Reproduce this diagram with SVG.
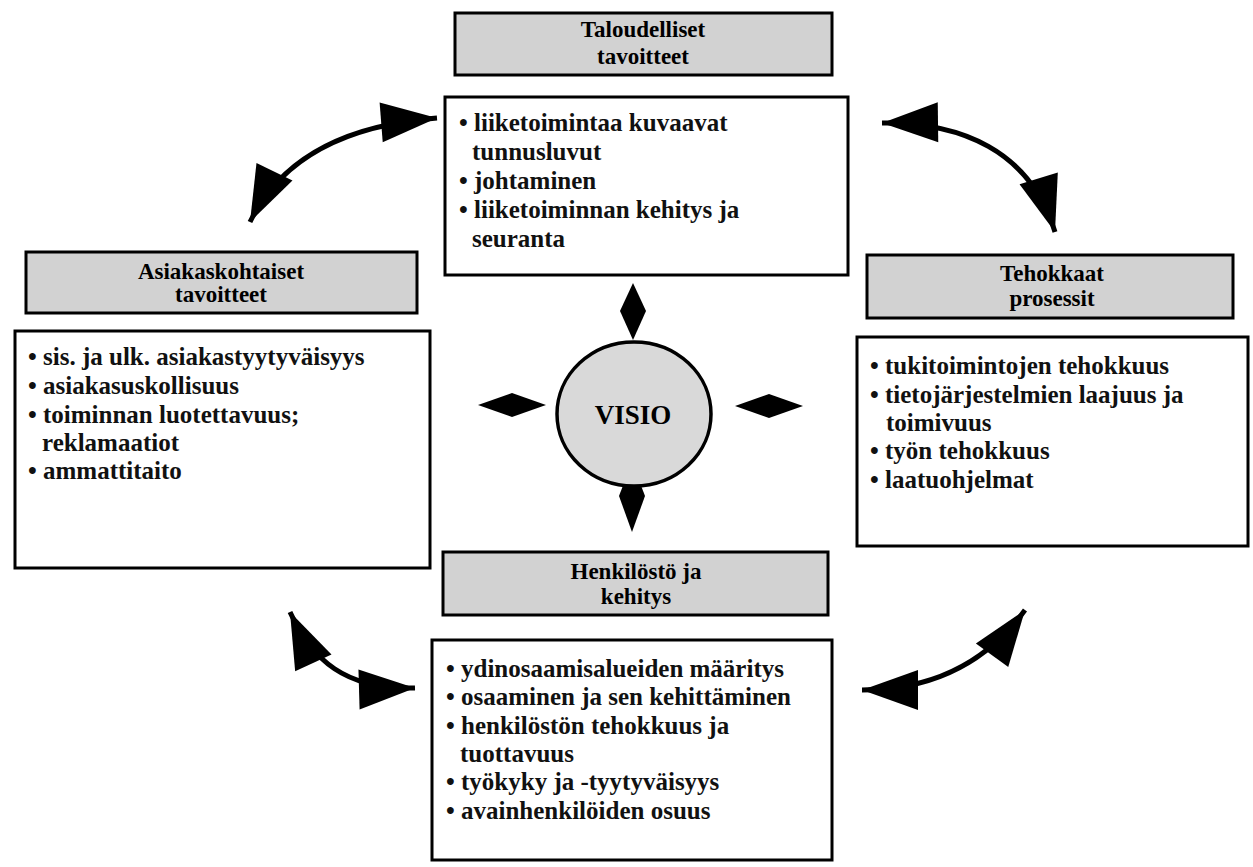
<svg xmlns="http://www.w3.org/2000/svg" width="1253" height="867" viewBox="0 0 1253 867">
<style>
.hdr{fill:#d2d2d2;stroke:#000;stroke-width:3}
.box{fill:#fff;stroke:#000;stroke-width:3}
text{font-family:'Liberation Serif','Tinos','Times New Roman','DejaVu Serif',serif;font-weight:bold;fill:#000}
.ht{font-size:23px;text-anchor:middle}
.bt{font-size:25px;fill:#111}
.conn{fill:none;stroke:#000;stroke-width:5}
.dia{fill:#000}
</style>
<defs>
<marker id="head" viewBox="-58 -22 60 44" markerWidth="60" markerHeight="44" refX="0" refY="0" markerUnits="userSpaceOnUse" orient="auto-start-reverse">
<path d="M0,0 L-56,-20 L-56,20 Z" fill="#000"/>
</marker>
</defs>
<rect width="1253" height="867" fill="#fff"/>

<g id="connectors">
<path class="conn" d="M250,222 C285,150 360,124 437,118" marker-start="url(#head)" marker-end="url(#head)"/>
<path class="conn" d="M882,123 C960,122 1030,150 1055,232" marker-start="url(#head)" marker-end="url(#head)"/>
<path class="conn" d="M290,612 C312,660 345,690 415,688" marker-start="url(#head)" marker-end="url(#head)"/>
<path class="conn" d="M862,690 C930,690 985,665 1025,610" marker-start="url(#head)" marker-end="url(#head)"/>
<polygon class="dia" points="633,283 646,311 633,340 620,311"/>
<polygon class="dia" points="478,405 512,393 546,405 512,417"/>
<polygon class="dia" points="735,406 769,394 803,406 769,418"/>
<polygon class="dia" points="632,462 645,496 632,532 619,496"/>
</g>

<g id="visio">
<ellipse cx="634" cy="414" rx="77" ry="72" fill="#d9d9d9" stroke="#000" stroke-width="3.5"/>
<text x="633" y="424" font-size="27" text-anchor="middle">VISIO</text>
</g>

<g id="taloudelliset">
<rect class="hdr" x="455" y="13" width="377" height="62"/>
<text class="ht" x="643" y="37">Taloudelliset</text>
<text class="ht" x="643" y="64">tavoitteet</text>
<rect class="box" x="445" y="97" width="403" height="178"/>
<text class="bt" x="459" y="131">• liiketoimintaa kuvaavat</text>
<text class="bt" x="472" y="160">tunnusluvut</text>
<text class="bt" x="459" y="189">• johtaminen</text>
<text class="bt" x="459" y="218">• liiketoiminnan kehitys ja</text>
<text class="bt" x="472" y="247">seuranta</text>
</g>

<g id="asiakas">
<rect class="hdr" x="26" y="252" width="391" height="61"/>
<text class="ht" x="221" y="279">Asiakaskohtaiset</text>
<text class="ht" x="221" y="302">tavoitteet</text>
<rect class="box" x="15" y="331" width="415" height="237"/>
<text class="bt" x="28" y="365">• sis. ja ulk. asiakastyytyväisyys</text>
<text class="bt" x="28" y="394">• asiakasuskollisuus</text>
<text class="bt" x="28" y="423">• toiminnan luotettavuus;</text>
<text class="bt" x="42" y="451">reklamaatiot</text>
<text class="bt" x="28" y="479">• ammattitaito</text>
</g>

<g id="tehokkaat">
<rect class="hdr" x="867" y="255" width="366" height="63"/>
<text class="ht" x="1052" y="281">Tehokkaat</text>
<text class="ht" x="1052" y="306">prosessit</text>
<rect class="box" x="857" y="337" width="391" height="209"/>
<text class="bt" x="870" y="374">• tukitoimintojen tehokkuus</text>
<text class="bt" x="870" y="403">• tietojärjestelmien laajuus ja</text>
<text class="bt" x="886" y="431">toimivuus</text>
<text class="bt" x="870" y="459">• työn tehokkuus</text>
<text class="bt" x="870" y="488">• laatuohjelmat</text>
</g>

<g id="henkilosto">
<rect class="hdr" x="443" y="552" width="385" height="63"/>
<text class="ht" x="636" y="579">Henkilöstö ja</text>
<text class="ht" x="636" y="604">kehitys</text>
<rect class="box" x="432" y="640" width="400" height="220"/>
<text class="bt" x="446" y="677">• ydinosaamisalueiden määritys</text>
<text class="bt" x="446" y="705">• osaaminen ja sen kehittäminen</text>
<text class="bt" x="446" y="734">• henkilöstön tehokkuus ja</text>
<text class="bt" x="460" y="762">tuottavuus</text>
<text class="bt" x="446" y="790">• työkyky ja -tyytyväisyys</text>
<text class="bt" x="446" y="819">• avainhenkilöiden osuus</text>
</g>
</svg>
